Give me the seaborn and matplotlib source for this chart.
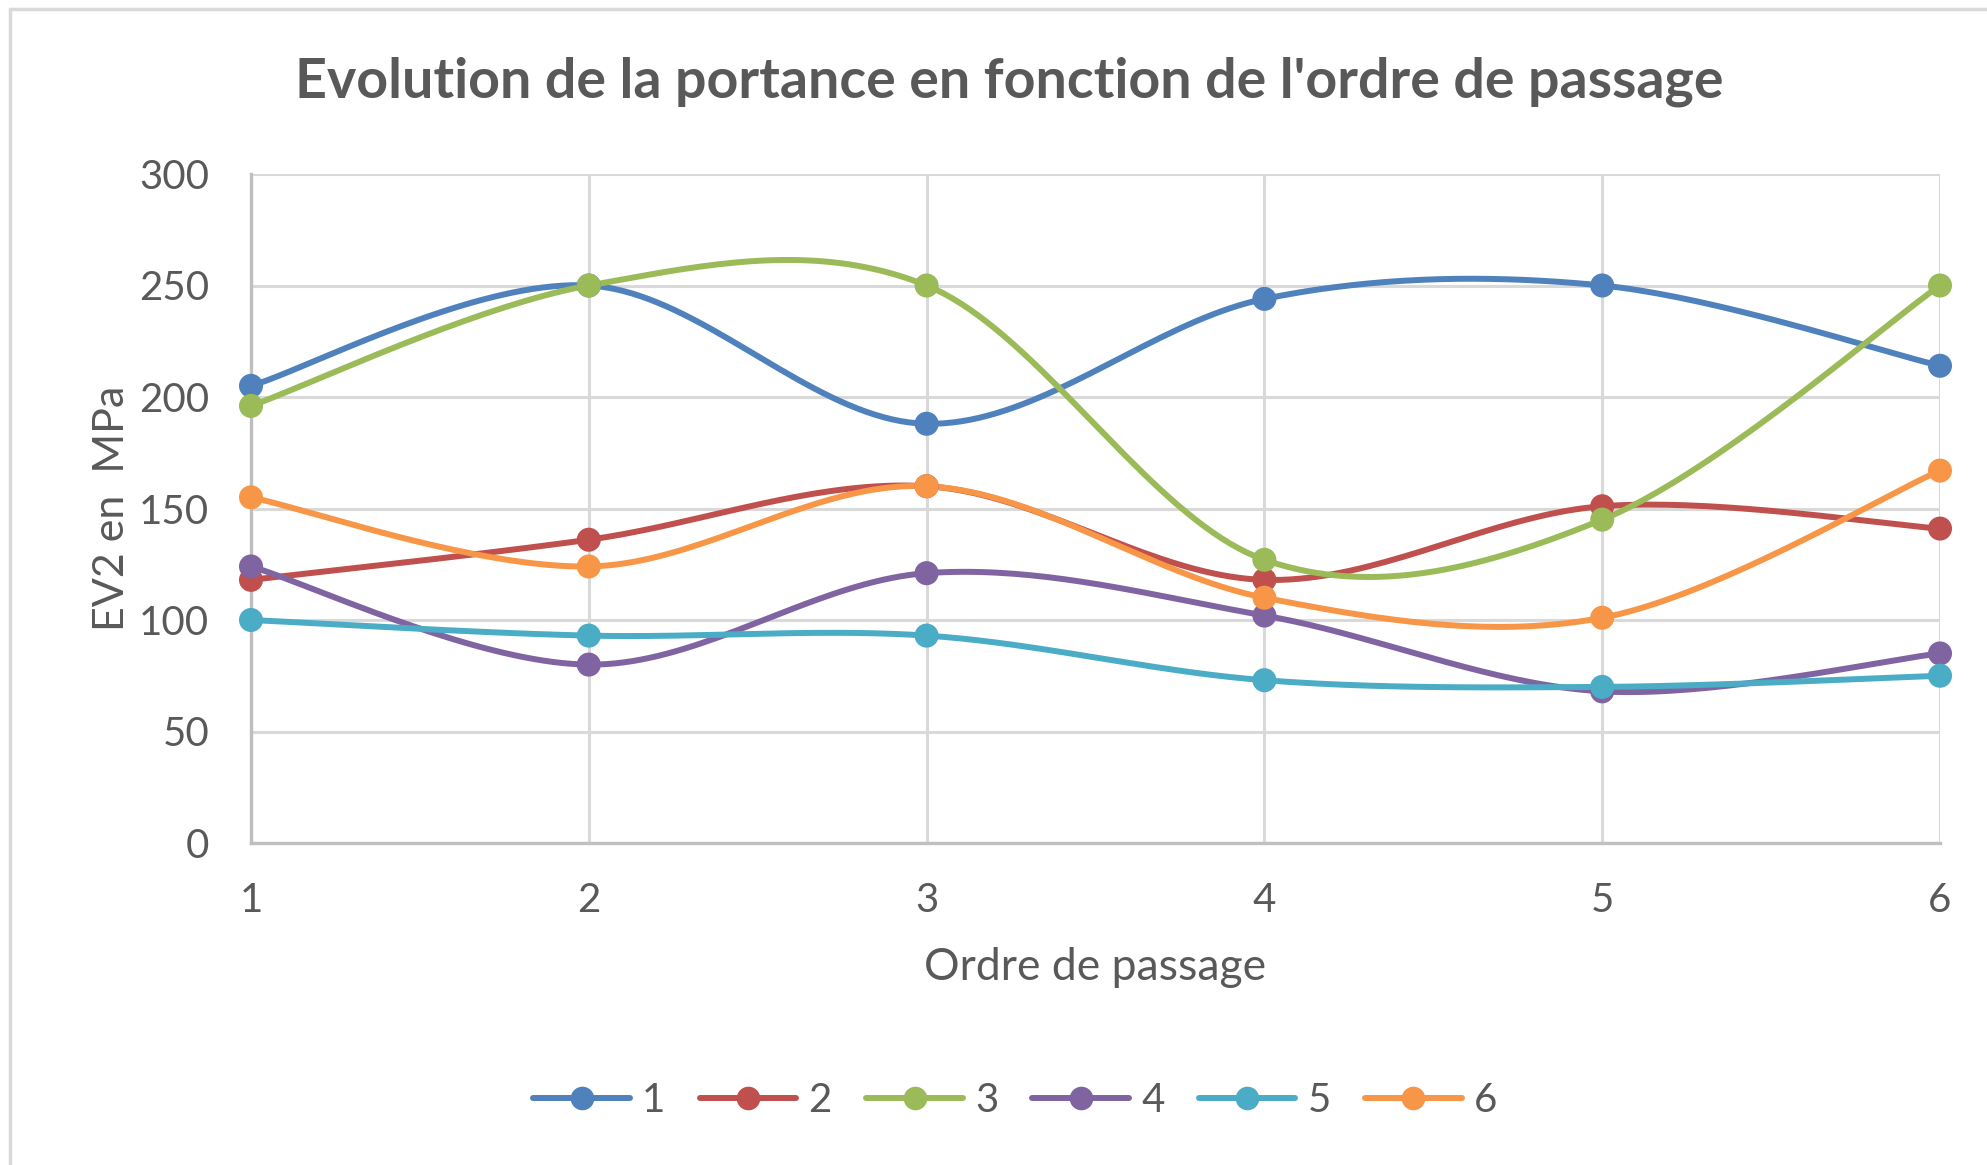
import numpy as np
import pandas as pd
import matplotlib
matplotlib.use("Agg")
import matplotlib.pyplot as plt
from matplotlib.lines import Line2D
import seaborn as sns

# ---- data ----
passages = [1, 2, 3, 4, 5, 6]
serie_1 = [205, 250, 188, 244, 250, 214]
serie_2 = [118, 136, 160, 118, 151, 141]
serie_3 = [196, 250, 250, 127, 145, 250]
serie_4 = [124, 80, 121, 102, 68, 85]
serie_5 = [100, 93, 93, 73, 70, 75]
serie_6 = [155, 124, 160, 110, 101, 167]
series_names = ["1", "2", "3", "4", "5", "6"]
yticks = [0, 50, 100, 150, 200, 250, 300]

colors = ["#4F81BD", "#C0504D", "#9BBB59", "#8064A2", "#4BACC6", "#F79646"]
all_series = [serie_1, serie_2, serie_3, serie_4, serie_5, serie_6]


def smooth(xs, ys, n=40):
    """Excel-like smoothed line (Catmull-Rom Bezier) through the points."""
    P = np.column_stack([xs, ys]).astype(float)
    m = len(P)
    out = []
    for i in range(m - 1):
        p0 = P[i - 1] if i > 0 else P[i]
        p1 = P[i]
        p2 = P[i + 1]
        p3 = P[i + 2] if i + 2 < m else P[i + 1]
        c1 = p1 + (p2 - p0) / 6.0
        c2 = p2 - (p3 - p1) / 6.0
        t = np.linspace(0, 1, n)[:, None]
        b = ((1 - t) ** 3) * p1 + 3 * ((1 - t) ** 2) * t * c1 + 3 * (1 - t) * t ** 2 * c2 + t ** 3 * p2
        out.append(b if i == 0 else b[1:])
    return np.vstack(out)


pts_rows = []
curve_rows = []
for name, vals in zip(series_names, all_series):
    for x, v in zip(passages, vals):
        pts_rows.append({"serie": name, "x": x, "y": v})
    c = smooth(passages, vals)
    for k, (cx, cy) in enumerate(c):
        curve_rows.append({"serie": name, "x": cx, "y": cy, "k": k})
pts = pd.DataFrame(pts_rows)
curves = pd.DataFrame(curve_rows)

sns.set_style("white")
font = ["Lato", "DejaVu Sans"]
plt.rcParams["font.family"] = font

W, H, DPI = 1987, 1165, 100
fig = plt.figure(figsize=(W / DPI, H / DPI), dpi=DPI)
ax = fig.add_axes([251 / W, 1 - 843 / H, (1940 - 251) / W, (843 - 174) / H])

palette = dict(zip(series_names, colors))
sns.lineplot(data=curves, x="x", y="y", hue="serie", units="serie", estimator=None,
             sort=False, palette=palette, linewidth=4.3, legend=False, ax=ax, zorder=3)
sns.scatterplot(data=pts, x="x", y="y", hue="serie", palette=palette, s=300,
                edgecolor="none", legend=False, ax=ax, zorder=4, clip_on=False)

ax.set_xlim(1, 6)
ax.set_ylim(0, 300)
ax.set_yticks(yticks)
ax.set_xticks(passages)
ax.set_xticklabels([str(p) for p in passages])
ax.grid(True, color="#D9D9D9", linewidth=2.2)
ax.set_axisbelow(True)
for s in ["top", "right"]:
    ax.spines[s].set_visible(False)
for s in ["left", "bottom"]:
    ax.spines[s].set_color("#BFBFBF")
    ax.spines[s].set_linewidth(2.4)
ax.tick_params(axis="both", length=0, labelsize=29, labelcolor="#595959")
ax.tick_params(axis="y", pad=30)
ax.tick_params(axis="x", pad=28)
ax.set_xlabel("Ordre de passage", fontsize=32, color="#595959", labelpad=20)
ax.set_ylabel("EV2 en  MPa", fontsize=31, color="#595959", labelpad=6)

fig.text(1009 / W, 1 - 82 / H,
         "Evolution de la portance en fonction de l'ordre de passage",
         ha="center", va="center", fontsize=40, fontweight="bold", color="#595959")

handles = [Line2D([0], [0], color=c, linewidth=4.3, marker="o", markersize=17,
                  markeredgewidth=0) for c in colors]
fig.legend(handles, series_names, loc="center", bbox_to_anchor=(0.511, 1 - 1101 / H),
           ncol=6, frameon=False, fontsize=29, labelcolor="#595959",
           handlelength=2.4, columnspacing=0.85, handletextpad=0.3)

# chart border (partially visible)
fig.add_artist(Line2D([10 / W, 10 / W], [0, 1 - 9 / H], transform=fig.transFigure,
                      color="#D9D9D9", linewidth=2.5))
fig.add_artist(Line2D([10 / W, 1], [1 - 9 / H, 1 - 9 / H], transform=fig.transFigure,
                      color="#D9D9D9", linewidth=2.5))

fig.savefig("out.png", dpi=DPI, facecolor="white")
